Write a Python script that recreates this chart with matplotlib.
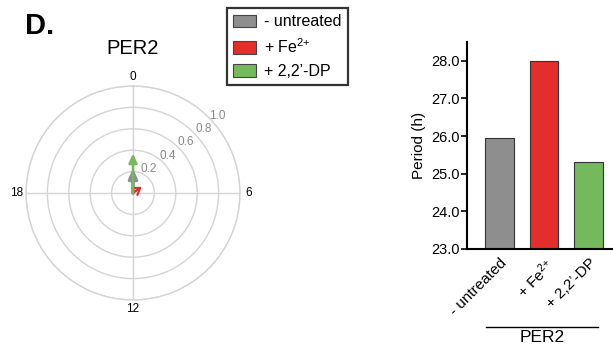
import numpy as np
import matplotlib.pyplot as plt
from matplotlib.patches import Patch
from matplotlib.lines import Line2D

plt.rcParams['font.family'] = ['Liberation Sans', 'DejaVu Sans']
plt.rcParams['mathtext.fontset'] = 'custom'
plt.rcParams['mathtext.rm'] = 'Liberation Sans'
plt.rcParams['mathtext.it'] = 'Liberation Sans'

# ---- data ----
groups = ['- untreated', '+ Fe$\\mathregular{^{2{+}}}$', "+ 2,2\u2019-DP"]
colors = ['#8e8e8e', '#e42e2b', '#74b95c']
periods = [25.95, 28.0, 25.3]

# phase vectors (hour of peak, amplitude)
phase_hours = [0.0, 3.6, 0.0]
amplitudes = [0.23, 0.10, 0.37]

ring_vals = [0.2, 0.4, 0.6, 0.8, 1.0]
hour_ticks = [0, 6, 12, 18]

W, H = 613, 354
fig = plt.figure(figsize=(W / 100, H / 100), dpi=100)

# ---- polar plot ----
ax = fig.add_axes([26 / W, 1 - 300 / H, 214 / W, 214 / H], projection='polar')
ax.set_theta_zero_location('N')
ax.set_theta_direction(-1)
ax.set_ylim(0, 1.0)
ax.set_xticks(np.deg2rad(np.array(hour_ticks) * 15))
ax.set_xticklabels([str(h) for h in hour_ticks], fontsize=8.5)
ax.tick_params(axis='x', pad=-4)
ax.set_yticks(ring_vals)
ax.set_yticklabels([])
ax.grid(True, color='#d4d4d4', lw=1.0)
ax.spines['polar'].set_color('#d4d4d4')
ax.spines['polar'].set_linewidth(1.0)

# radial labels
lab_pos = [(34, 0.27), (43, 0.47), (46, 0.68), (47.5, 0.89), (47.5, 1.07)]
for v, (ang, r) in zip(ring_vals, lab_pos):
    ax.text(np.deg2rad(ang), r, f'{v:.1f}', color='#8a8a8a', fontsize=8.5,
            ha='center', va='center')

styles = ['-|>,head_length=0.55,head_width=0.25', '->,head_length=0.45,head_width=0.3',
          '-|>,head_length=0.55,head_width=0.25']
widths = [2.6, 1.6, 1.8]
for h, a, c, lw, st in zip(phase_hours, amplitudes, colors, widths, styles):
    ax.annotate('', xy=(np.deg2rad(h * 15), a), xytext=(0, 0),
                arrowprops=dict(arrowstyle=st, color=c, lw=lw,
                                shrinkA=0, shrinkB=0))

fig.text(133 / W, 1 - 48 / H, 'PER2', fontsize=14.5, ha='center', va='center')
fig.text(25 / W, 1 - 26 / H, 'D.', fontsize=21, fontweight='bold',
         ha='left', va='center')

# ---- legend ----
handles = [Patch(facecolor=c, edgecolor='#444444', lw=0.8) for c in colors]
leg = fig.legend(handles, groups, loc='upper left',
                 bbox_to_anchor=(227 / W, 1 - 8 / H), fontsize=11.5,
                 frameon=True, fancybox=False, handlelength=1.4,
                 handleheight=0.8, handletextpad=0.5, labelspacing=0.5,
                 borderpad=0.4, borderaxespad=0)
leg.get_frame().set_edgecolor('black')
leg.get_frame().set_linewidth(1.6)

# ---- bar chart ----
bx = fig.add_axes([467 / W, 1 - 249 / H, 146 / W, 207 / H])
x = np.arange(len(groups))
bx.bar(x, [p - 23.0 for p in periods], bottom=23.0, width=0.65,
       color=colors, edgecolor='#333333', lw=0.8)
bx.set_ylim(23.0, 28.5)
bx.set_xlim(-0.73, 2.55)
bx.set_yticks([23, 24, 25, 26, 27, 28])
bx.set_yticklabels([f'{t:.1f}' for t in [23, 24, 25, 26, 27, 28]], fontsize=10.5)
bx.set_xticks(x)
bx.set_xticklabels(groups, rotation=45, ha='right', rotation_mode='anchor',
                   fontsize=11)
bx.tick_params(axis='x', length=0, pad=5)
bx.tick_params(axis='y', length=4, width=1.2, pad=1)
bx.spines['top'].set_visible(False)
bx.spines['right'].set_visible(False)
bx.spines['left'].set_linewidth(1.5)
bx.spines['bottom'].set_linewidth(1.5)
bx.set_ylabel('Period (h)', fontsize=11, labelpad=4)

fig.add_artist(Line2D([486 / W, 598 / W], [1 - 327 / H, 1 - 327 / H],
                      color='black', lw=1.0))
fig.text(542 / W, 1 - 338 / H, 'PER2', fontsize=12.5, ha='center', va='center')

fig.savefig('out.png', dpi=100)
